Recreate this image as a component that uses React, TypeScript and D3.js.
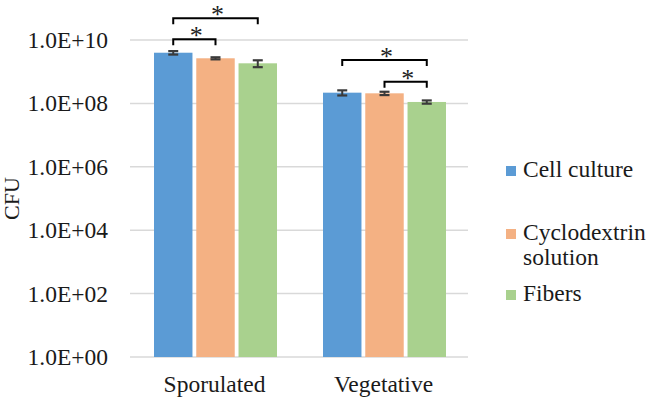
import React from "react";
import * as d3 from "d3";

const categories = ["Sporulated", "Vegetative"];
const seriesNames = ["Cell culture", "Cyclodextrin solution", "Fibers"];
const legendLines = [["Cell culture"], ["Cyclodextrin", "solution"], ["Fibers"]];
const colors = ["#5B9BD5", "#F4B183", "#A9D18E"];
// values per category, per series
const cellCulture = [3.97e9, 2.18e8];
const cyclodextrin = [2.65e9, 2.08e8];
const fibers = [1.84e9, 1.11e8];
const cellCultureErr = [0.5e9, 0.4e8];
const cyclodextrinErr = [0.2e9, 0.25e8];
const fibersErr = [0.45e9, 0.13e8];
const yTicks = [1, 1e2, 1e4, 1e6, 1e8, 1e10];
const yTickLabels = ["1.0E+00", "1.0E+02", "1.0E+04", "1.0E+06", "1.0E+08", "1.0E+10"];
// significance brackets: category, series index a, series index b, level (log10 CFU)
const sigCategory = ["Sporulated", "Sporulated", "Vegetative", "Vegetative"];
const sigFrom = [0, 0, 0, 1];
const sigTo = [1, 2, 2, 2];
const sigLevel = [10.02, 10.69, 9.37, 8.68];
const sigLabel = ["*", "*", "*", "*"];

const W = 649;
const H = 400;
const FONT = "Liberation Serif, DejaVu Serif, serif";
const ts = { fontFamily: FONT } as React.CSSProperties;
const FS = 23.5;

export default function App() {
  const values = [cellCulture, cyclodextrin, fibers];
  const errs = [cellCultureErr, cyclodextrinErr, fibersErr];
  const y = d3.scaleLog().domain([1, 1e10]).range([357, 40]);
  const x0 = d3.scaleBand().domain(categories).range([130, 468]).padding(0);
  const x1 = d3
    .scaleBand()
    .domain(seriesNames)
    .range([24, 147])
    .paddingInner(0.09);
  const cx = (cat: string, si: number) =>
    (x0(cat) as number) + (x1(seriesNames[si]) as number) + x1.bandwidth() / 2;

  const legendBase = [177, 240, 301];

  return (
    <svg
      width={W}
      height={H}
      style={{ position: "absolute", left: 0, top: 0, background: "#fff" }}
    >
      {/* gridlines */}
      {yTicks.map((t, i) => (
        <g key={"g" + i}>
          <line x1={130} x2={468} y1={y(t)} y2={y(t)} stroke="#D9D9D9" strokeWidth={1.5} />
          <text
            x={108}
            y={y(t)}
            dy="0.34em"
            textAnchor="end"
            fontSize={FS}
            fill="#1a1a1a"
            style={ts}
          >
            {yTickLabels[i]}
          </text>
        </g>
      ))}
      {/* bars */}
      {categories.map((cat, ci) =>
        seriesNames.map((s, si) => {
          const v = values[si][ci];
          const e = errs[si][ci];
          const bx = (x0(cat) as number) + (x1(s) as number);
          const c = cx(cat, si);
          return (
            <g key={cat + s}>
              <rect
                x={bx}
                y={y(v)}
                width={x1.bandwidth()}
                height={y(1) - y(v)}
                fill={colors[si]}
              />
              <line x1={c} x2={c} y1={y(v + e)} y2={y(v - e)} stroke="#3a3a3a" strokeWidth={2} />
              <line x1={c - 5} x2={c + 5} y1={y(v + e)} y2={y(v + e)} stroke="#3a3a3a" strokeWidth={2.2} />
              <line x1={c - 5} x2={c + 5} y1={y(v - e)} y2={y(v - e)} stroke="#3a3a3a" strokeWidth={2.2} />
            </g>
          );
        })
      )}
      {/* significance brackets */}
      {sigCategory.map((cat, i) => {
        const xa = cx(cat, sigFrom[i]);
        const xb = cx(cat, sigTo[i]);
        const yl = y(Math.pow(10, sigLevel[i]));
        return (
          <g key={"s" + i}>
            <path
              d={`M${xa},${yl + 6}V${yl}H${xb}V${yl + 6}`}
              fill="none"
              stroke="#000"
              strokeWidth={2}
            />
            <text
              x={(xa + xb) / 2 + 2}
              y={yl + 5}
              textAnchor="middle"
              fontSize={26}
              fill="#222"
              style={ts}
            >
              {sigLabel[i]}
            </text>
          </g>
        );
      })}
      {/* category labels */}
      {categories.map((cat) => (
        <text
          key={cat}
          x={(x0(cat) as number) + x0.bandwidth() / 2}
          y={392}
          textAnchor="middle"
          fontSize={FS}
          fill="#1a1a1a"
          style={ts}
        >
          {cat}
        </text>
      ))}
      {/* y axis title */}
      <text
        transform={`translate(19,${y(1e5)}) rotate(-90)`}
        textAnchor="middle"
        fontSize={22}
        fill="#1a1a1a"
        style={ts}
      >
        CFU
      </text>
      {/* legend */}
      {legendLines.map((lines, i) => {
        const baseY = legendBase[i];
        return (
          <g key={"l" + i}>
            <rect x={506} y={baseY - 11} width={10} height={10} fill={colors[i]} />
            {lines.map((ln, j) => (
              <text key={j} x={523} y={baseY + j * 25} fontSize={FS} fill="#1a1a1a" style={ts}>
                {ln}
              </text>
            ))}
          </g>
        );
      })}
    </svg>
  );
}
